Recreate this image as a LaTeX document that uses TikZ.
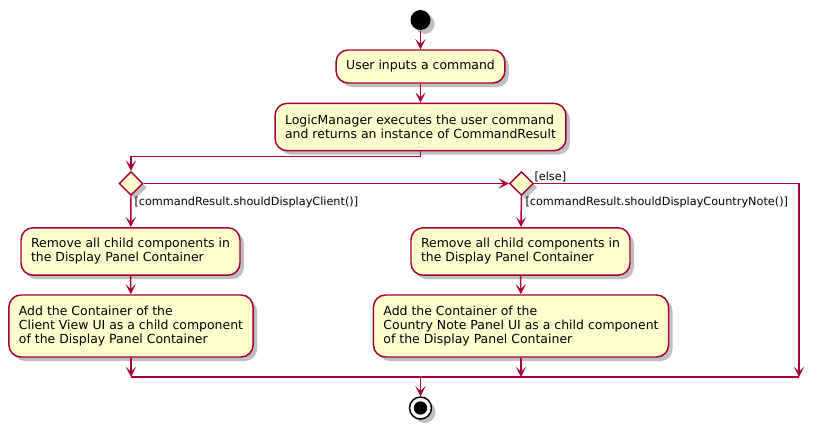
\documentclass[tikz,border=0pt]{standalone}
\usepackage{fontspec}
\setmainfont{DejaVu Sans}
\usetikzlibrary{arrows.meta,shapes.geometric,shadows}
\definecolor{umlred}{RGB}{168,0,54}
\definecolor{umlfill}{RGB}{254,254,206}
\tikzset{every picture/.style={line width=0.75pt}}
\tikzset{
  shade/.style={drop shadow={shadow xshift=3pt, shadow yshift=-3pt, fill=black, opacity=0.25}},
  act/.style={shape=rectangle, draw=umlred, fill=umlfill, line width=1.1pt, rounded corners=9pt, align=left, inner xsep=7.5pt, inner ysep=0pt, font=\fontsize{9.35}{10.5}\selectfont, shade},
  oneline/.style={act, minimum height=24.75pt},
  twoline/.style={act, minimum height=35.5pt},
  threeline/.style={act, minimum height=46.5pt},
  decision/.style={shape=diamond, draw=umlred, fill=umlfill, line width=1.1pt, minimum width=18pt, minimum height=18pt, inner sep=0pt, shade},
  guard/.style={font=\fontsize{8.45}{10}\selectfont, inner sep=0pt, anchor=west},
  flow/.style={draw=umlred, line width=1.1pt, -{Stealth[length=7.5pt,width=7.5pt,inset=3.5pt]}},
  bar/.style={draw=umlred, line width=1.1pt}
}

\begin{document}
\begin{tikzpicture}[x=0.75pt,y=0.75pt,yscale=-1,xscale=1]
\useasboundingbox (0,0) rectangle (824,429);

%Start / stop
\node[circle, fill=black, minimum size=15pt, inner sep=0pt, shade] (start) at (420.5,20) {};
\node[circle, draw=black, fill=white, line width=1.1pt, minimum size=16.5pt, inner sep=0pt, shade] (stop) at (420.5,408) {};
\fill (stop.center) circle[radius=5pt];

%Actions
\node[oneline] (input) at (420.5,66.5) {User inputs a command};
\node[twoline] (logic) at (420.5,127) {LogicManager executes the user command\\and returns an instance of CommandResult};
\node[twoline] (remclient) at (130.5,251.5) {Remove all child components in\\the Display Panel Container};
\node[threeline] (addclient) at (131,326) {Add the Container of the\\Client View UI as a child component\\of the Display Panel Container};
\node[twoline] (remcountry) at (520.5,251.5) {Remove all child components in\\the Display Panel Container};
\node[threeline] (addcountry) at (521,326) {Add the Container of the\\Country Note Panel UI as a child component\\of the Display Panel Container};

%Decisions
\node[decision] (ifclient) at (131,183.5) {};
\node[decision] (ifcountry) at (521.5,183.5) {};
\coordinate (elseend) at (799,377);

%Guards
\node[guard] (gclient) at (134,202) {[commandResult.shouldDisplayClient()]};
\node[guard] (gcountry) at (525,202) {[commandResult.shouldDisplayCountryNote()]};
\node[guard] (gelse) at (534,177) {[else]};

%Connectors
\draw[flow] (start) -- (input);
\draw[flow] (input) -- (logic);
\draw[flow] (logic.south) -- ++(0,5) -| (ifclient.north);
\draw[flow] (ifclient.east) -- (ifcountry.west);
\draw[flow] (ifcountry.east) -| (elseend);
\draw[flow] (ifclient.south) -- (remclient);
\draw[flow] (remclient) -- (addclient);
\draw[flow] (addclient.south) -- (addclient.south |- elseend);
\draw[flow] (ifcountry.south) -- (remcountry);
\draw[flow] (remcountry) -- (addcountry);
\draw[flow] (addcountry.south) -- (addcountry.south |- elseend);
\draw[bar] (addclient.south |- elseend) -- (elseend);
\draw[flow] (start |- elseend) -- (stop);

\end{tikzpicture}
\end{document}
